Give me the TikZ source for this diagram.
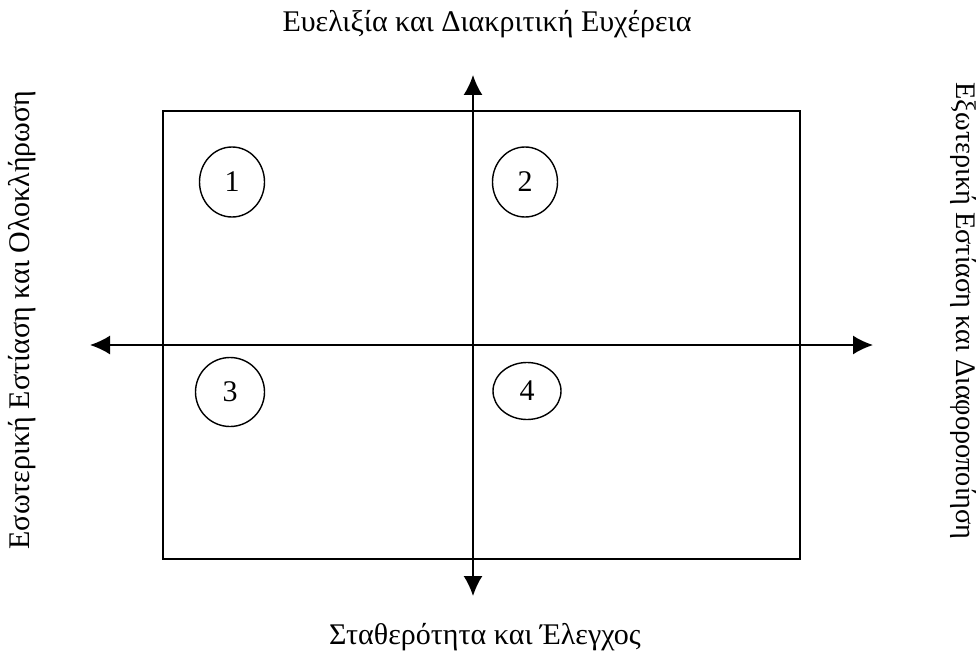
\documentclass[tikz,border=0pt]{standalone}
\usepackage{fontspec}
\setmainfont{Liberation Serif}
\usetikzlibrary{arrows.meta,shapes.geometric}
\tikzset{
  quad/.style={draw,ellipse,line width=1.4pt,minimum width=65pt,minimum height=70pt,inner sep=0pt,font=\fontsize{30}{30}\selectfont},
  axis/.style={line width=1.7pt,{Latex[length=20pt,width=19pt]}-{Latex[length=20pt,width=19pt]}},
  lbl/.style={font=\fontsize{30}{30}\selectfont}
}
\begin{document}
\begin{tikzpicture}[x=1pt,y=-1pt]
\useasboundingbox (0,0) rectangle (979,658);
% frame and the two axes
\draw[line width=1.7pt] (163,111) rectangle (800,559);
\coordinate (n) at (473,75); \coordinate (s) at (473,596);
\coordinate (w) at (90,345); \coordinate (e) at (873,345);
\draw[axis] (n) -- (s);
\draw[axis] (w) -- (e);
% quadrants
\node[quad] (q1) at (232,182) {1};
\node[quad] (q2) at (525,182) {2};
\node[quad,minimum width=69pt,minimum height=69pt] (q3) at (230,392) {3};
\node[quad,minimum width=68pt,minimum height=57pt] (q4) at (527,391) {4};
% axis labels
\node[lbl] (flex) at (487,24) {Ευελιξία και Διακριτική Ευχέρεια};
\node[lbl] (stab) at (485,637) {Σταθερότητα και Έλεγχος};
\node[lbl,rotate=90] (inner) at (22,320) {Εσωτερική Εστίαση και Ολοκλήρωση};
\node[lbl,rotate=-90,font=\fontsize{28.3}{28.3}\selectfont] (outer) at (963,311) {Εξωτερική Εστίαση και Διαφοροποίηση};
\end{tikzpicture}
\end{document}
